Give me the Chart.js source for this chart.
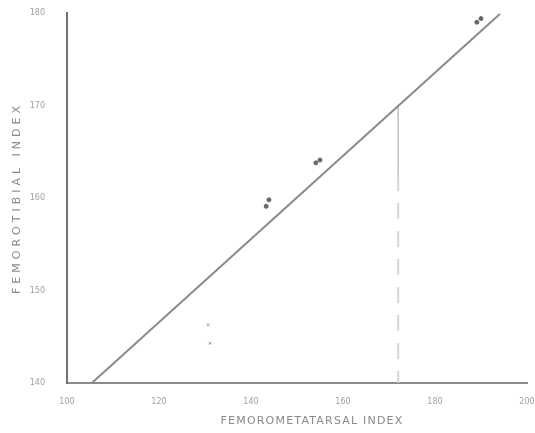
<!DOCTYPE html>
<html>
<head>
<meta charset="utf-8">
<script src="https://cdn.jsdelivr.net/npm/chart.js@4/dist/chart.umd.min.js"></script>
<style>
    html, body { margin: 0; padding: 0; background: #fff; }
    #wrap { width: 535px; height: 433px; }
</style>
</head>
<body>
<div id="wrap"><canvas id="indexChart" width="535" height="433"></canvas></div>
<script>
// Femorotibial vs femorometatarsal index

const xTicks = [100, 120, 140, 160, 180, 200];
const yTicks = [140, 150, 160, 170, 180];

// paired sample points
const sampleX = [143.3, 143.9, 154.1, 155.0, 189.1, 190.0];
const sampleY = [159.1, 159.8, 163.8, 164.1, 179.0, 179.4];

// small marks lower left
const markX = [130.7, 131.1];
const markY = [146.3, 144.3];

// fitted line ends
const fitX = [105.4, 194.1];
const fitY = [140, 179.9];

// vertical reference line
const refX = 172;
const refTop = 170;
const refBreak = 162.5;
const refBottom = 140;

const toPts = (xs, ys) => xs.map((x, i) => ({ x: x, y: ys[i] }));

// spread out the axis title letters like the original print
function spacedTitle(scale, spacing, shiftX) {
    if (scale._spaced) return;
    const orig = scale.drawTitle.bind(scale);
    scale.drawTitle = (...args) => {
        const c = scale.ctx;
        const prev = c.letterSpacing;
        c.save();
        c.translate(shiftX, 0);
        c.letterSpacing = spacing;
        orig(...args);
        c.letterSpacing = prev;
        c.restore();
    };
    scale._spaced = true;
}

const ctx = document.getElementById('indexChart');
new Chart(ctx, {
    type: 'scatter',
    data: {
        datasets: [
            {
                type: 'line',
                data: toPts(fitX, fitY),
                borderColor: '#8a8a8a',
                borderWidth: 2,
                pointRadius: 0,
                showLine: true
            },
            {
                type: 'line',
                data: [{ x: refX, y: refTop }, { x: refX, y: refBreak }],
                borderColor: '#c4c4c4',
                borderWidth: 1,
                pointRadius: 0,
                showLine: true
            },
            {
                type: 'line',
                data: [{ x: refX, y: refBreak }, { x: refX, y: refBottom }],
                borderColor: '#d6d6d6',
                borderWidth: 2,
                borderDash: [16, 12],
                pointRadius: 0,
                showLine: true
            },
            {
                data: toPts(sampleX, sampleY),
                backgroundColor: '#666',
                borderColor: '#666',
                pointRadius: 2,
                pointHoverRadius: 2
            },
            {
                data: toPts(markX, markY),
                backgroundColor: '#999',
                borderColor: '#999',
                borderWidth: 1,
                pointStyle: 'crossRot',
                pointRadius: 2
            }
        ]
    },
    options: {
        responsive: false,
        animation: false,
        layout: { padding: { left: 0, right: 8, top: 13, bottom: 0 } },
        plugins: { legend: { display: false }, tooltip: { enabled: false } },
        scales: {
            x: {
                type: 'linear',
                min: 100,
                max: 200,
                afterBuildTicks: (s) => { s.ticks = xTicks.map(v => ({ value: v })); },
                afterFit: (s) => { s.height = 50; s.paddingLeft = 0; s.paddingRight = 0; spacedTitle(s, '1.2px', 15); },
                grid: { display: false },
                border: { display: true, color: '#8c8c8c', width: 2 },
                ticks: { color: '#a0a0a0', font: { family: 'DejaVu Sans', size: 8 }, padding: 6, maxRotation: 0 },
                title: {
                    display: true,
                    text: 'FEMOROMETATARSAL INDEX',
                    color: '#8a8a8a',
                    font: { family: 'DejaVu Sans', size: 11 },
                    padding: { top: 0, bottom: 5 }
                }
            },
            y: {
                type: 'linear',
                min: 140,
                max: 180,
                afterBuildTicks: (s) => { s.ticks = yTicks.map(v => ({ value: v })); },
                afterFit: (s) => { s.width = 67; s.paddingTop = 0; s.paddingBottom = 0; spacedTitle(s, '4px', 0); },
                grid: { display: false },
                border: { display: true, color: '#707070', width: 2 },
                ticks: { color: '#a0a0a0', font: { family: 'DejaVu Sans', size: 8 }, padding: 14 },
                title: {
                    display: true,
                    text: 'FEMOROTIBIAL INDEX',
                    color: '#8a8a8a',
                    font: { family: 'DejaVu Sans', size: 11 },
                    padding: { top: 11, bottom: 0 }
                }
            }
        }
    }
});
</script>
</body>
</html>
